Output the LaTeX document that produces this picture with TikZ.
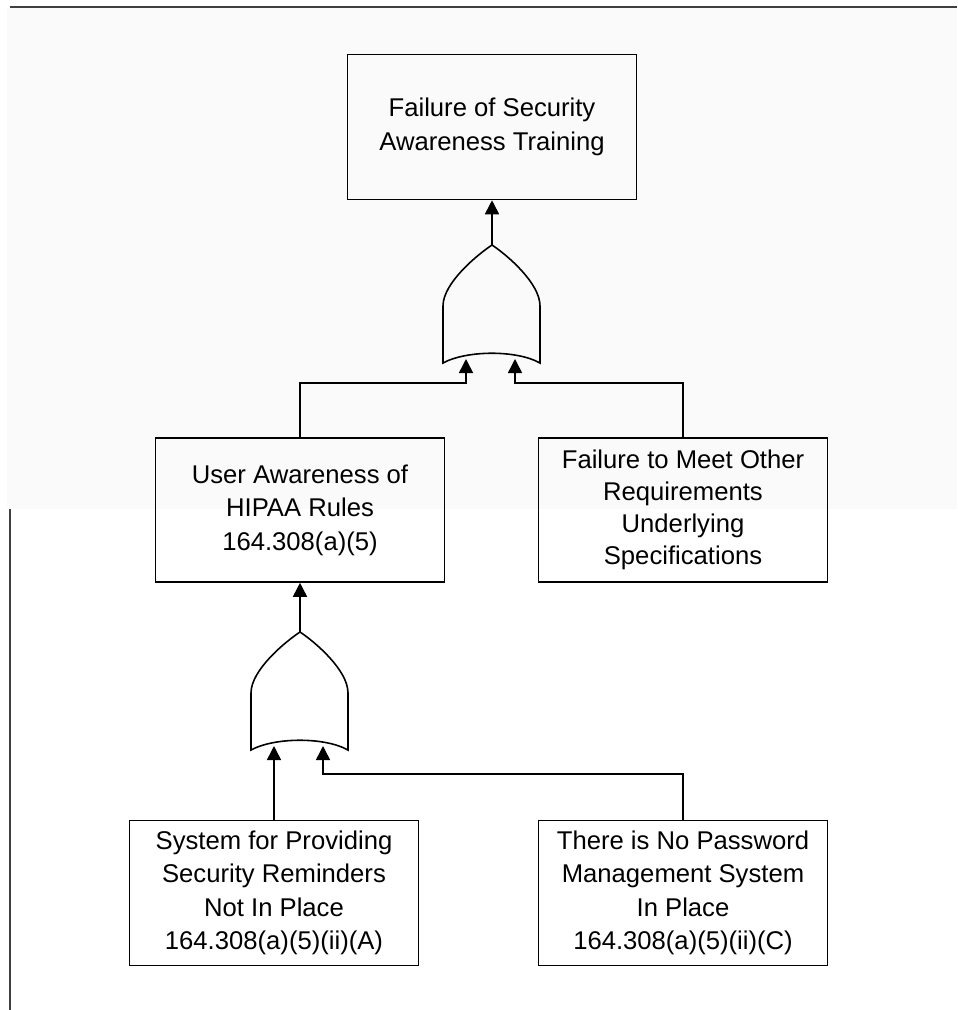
\documentclass[tikz,border=0pt]{standalone}
\usepackage{fontspec}
\setmainfont{Liberation Sans}
\usepackage{tikz}
\usetikzlibrary{arrows.meta,positioning}

\tikzset{
  event/.style={draw, line width=0.9pt, minimum width=5.78cm, minimum height=2.9cm,
    align=center, inner sep=2pt, font=\fontsize{14.6}{19}\selectfont},
  flow/.style={line width=0.9pt, -{Triangle[width=8pt,length=8pt]}},
  orgate/.pic={
    \draw[line width=0.9pt] (0,0) .. controls (-15,10) and (-49,38) .. (-49,61) -- (-49,118)
      .. controls (-25,105) and (25,105) .. (48,118) -- (48,61)
      .. controls (48,38) and (15,10) .. (0,0);
    \coordinate (-out) at (0,0);
    \coordinate (-a) at (-26,114);
    \coordinate (-b) at (23,114);
  }
}

\begin{document}
\begin{tikzpicture}[x=0.02cm, y=-0.02cm]
  \useasboundingbox (0,0) rectangle (957,1010);
  \fill[black!2] (7,8) rectangle (957,509);
  \draw[line width=1.2pt, black!75] (10,7) -- (957,7);
  \draw[line width=1.2pt, black!75] (10,509) -- (10,1010);

  \node[event] (top) at (492,127) {Failure of Security\\Awareness Training};
  \node[event, minimum height=2.88cm] (lmid) at (300,510) {User Awareness of\\HIPAA Rules\\164.308(a)(5)};
  \node[event, minimum height=2.88cm, font=\fontsize{14.6}{18.2}\selectfont] (rmid) at (683,510)
    {Failure to Meet Other\\Requirements\\Underlying\\Specifications};
  \node[event] (lbot) at (274,893) {System for Providing\\Security Reminders\\Not In Place\\164.308(a)(5)(ii)(A)};
  \node[event] (rbot) at (683,893) {There is No Password\\Management System\\In Place\\164.308(a)(5)(ii)(C)};

  \pic (g1) at (492,245) {orgate};
  \pic (g2) at (300,632) {orgate};

  \draw[flow] (g1-out) -- (top.south);
  \draw[flow] (lmid.north) -- ++(0,-54) -| (g1-a);
  \draw[flow] (rmid.north) -- ++(0,-54) -| (g1-b);
  \draw[flow] (g2-out) -- (lmid.south);
  \draw[flow] (lbot.north) -- (g2-a);
  \draw[flow] (rbot.north) -- ++(0,-46) -| (g2-b);
\end{tikzpicture}
\end{document}
